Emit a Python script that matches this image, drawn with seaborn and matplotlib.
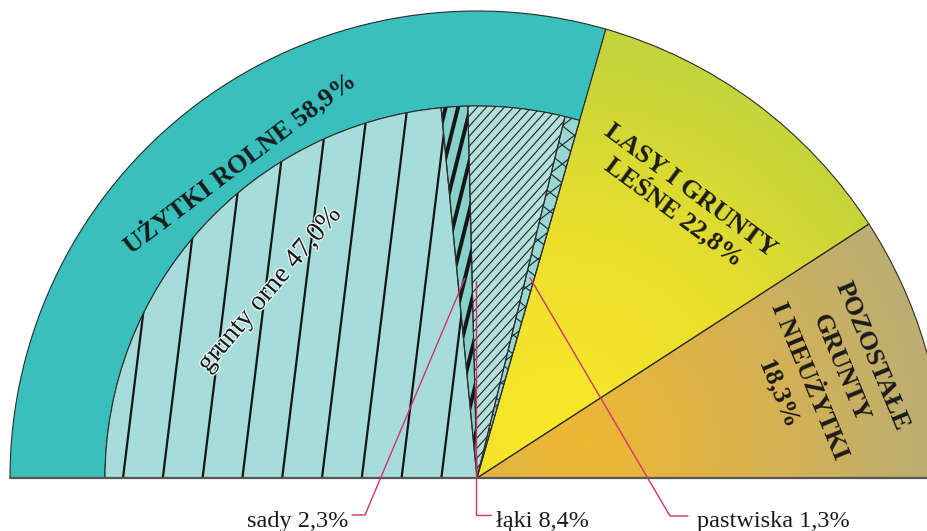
import numpy as np
import matplotlib
matplotlib.use("Agg")
import matplotlib.pyplot as plt
import matplotlib.patheffects as pe
from matplotlib.patches import Wedge
import seaborn as sns

# dane (% powierzchni)
outer_labels = ["UŻYTKI ROLNE", "LASY I GRUNTY\nLEŚNE", "POZOSTAŁE\nGRUNTY\nI NIEUŻYTKI"]
outer_values = [58.9, 22.8, 18.3]
inner_labels = ["grunty orne", "sady", "łąki", "pastwiska"]
inner_values = [47.0, 2.3, 8.4, 1.3]


def pct(v):
    return f"{v:.1f}".replace(".", ",") + "%"


sns.set_style("white")
plt.rcParams["font.family"] = ["Liberation Serif", "DejaVu Serif"]

W, H = 928, 531
fig = plt.figure(figsize=(W / 100, H / 100), dpi=100)
ax = fig.add_axes([0, 0, 1, 1])

cx, cy = 477, H - 478
R, r = 467, 372
edge = "#2b2b2b"


def spans(values, start, total):
    out, t = [], start
    for v in values:
        d = v / sum(values) * total
        out.append((t - d, t))
        t -= d
    return out


def pol(a, rad):
    return cx + rad * np.cos(np.radians(a)), cy + rad * np.sin(np.radians(a))


outer_sp = spans(outer_values, 180, 180)
inner_sp = spans(inner_values, 180, outer_sp[0][1] - outer_sp[0][0])


def hatch(patch, ang, step, lw, color, through=(cx, cy)):
    d = np.array([np.cos(np.radians(ang)), np.sin(np.radians(ang))])
    n = np.array([-d[1], d[0]])
    for k in range(-90, 91):
        p = np.array(through) + n * step * k
        seg = np.array([p - d * 1300, p + d * 1300])
        ln, = ax.plot(seg[:, 0], seg[:, 1], color=color, lw=lw,
                      solid_capstyle="butt", zorder=2)
        ln.set_clip_path(patch)


# pierścień zewnętrzny - użytki rolne
t1, t2 = outer_sp[0]
ax.add_patch(Wedge((cx, cy), R, t1, t2, width=R - r, fc="#39bfbc",
                   ec=edge, lw=0.8, zorder=1))

# lasy i pozostałe z gradientem
yy, xx = np.mgrid[0:H, 0:W] + 0.5
grad = [
    (sns.blend_palette(["#f8e829", "#ecdf2c", "#c4d43b"], as_cmap=True), (560, H - 430), 380),
    (sns.blend_palette(["#eeb832", "#d9b24e", "#bdae70"], as_cmap=True), (585, H - 445), 340),
]
for (a1, a2), (cmap, gc, gr) in zip(outer_sp[1:], grad):
    w = Wedge((cx, cy), R, a1, a2, fc="none", ec="none", zorder=1)
    ax.add_patch(w)
    t = np.clip(np.hypot(xx - gc[0], yy - gc[1]) / gr, 0, 1)
    im = ax.imshow(cmap(t), extent=(0, W, 0, H), origin="lower",
                   aspect="auto", zorder=1.5)
    im.set_clip_path(w)
    ax.add_patch(Wedge((cx, cy), R, a1, a2, fc="none", ec=edge, lw=0.8, zorder=3))

# wewnętrzne segmenty
inner_fc = ["#a6dcd9", "#86d1cc", "#b3e1de", "#98d7d3"]
patches = []
for (a1, a2), fc in zip(inner_sp, inner_fc):
    w = Wedge((cx, cy), r, a1, a2, fc=fc, ec="none", zorder=1)
    ax.add_patch(w)
    patches.append(w)

hatch(patches[0], 83, 39.5, 1.6, "#151515", through=(123, cy))
hatch(patches[1], 76, 12, 2.8, "#151515")
hatch(patches[2], 48, 6.7, 0.8, "#222222")
hatch(patches[3], 38, 15, 0.8, "#222222")
hatch(patches[3], 142, 15, 0.8, "#222222")

for a1, a2 in inner_sp:
    ax.add_patch(Wedge((cx, cy), r, a1, a2, fc="none", ec=edge, lw=0.8, zorder=3))

# linia podstawy
ax.plot([cx - R, W], [cy, cy], color="#555555", lw=1.6, zorder=3.5)

# etykiety zewnętrzne
lab_r = [395, 344, 363]
lab_rot = [0, 0, 6]
lab_ls = [1.0, 1.05, 1.6]
for (a1, a2), lab, v, rad, dr, ls in zip(outer_sp, outer_labels, outer_values,
                                         lab_r, lab_rot, lab_ls):
    m = (a1 + a2) / 2
    sep = "\n" if lab.startswith("POZ") else " "
    x, y = pol(m, rad)
    ax.text(x, y, lab + sep + pct(v), rotation=m - 90 + dr, rotation_mode="anchor",
            ha="center", va="center", multialignment="center", fontsize=19,
            fontweight="bold", color="#1a1a1a", linespacing=ls, zorder=6)

# grunty orne
a1, a2 = inner_sp[0]
m = (a1 + a2) / 2
x, y = pol(m, 280)
ax.text(x, y, f"{inner_labels[0]} {pct(inner_values[0])}", rotation=m - 88,
        rotation_mode="anchor", ha="center", va="center", fontsize=20,
        color="#1a1a1a", zorder=6,
        path_effects=[pe.withStroke(linewidth=2, foreground="#e6f5f4")])

# odnośniki
mag = "#d4326e"
yl = H - 515
# sady
m = sum(inner_sp[1]) / 2
p = pol(m, 200)
ax.plot([p[0], 365, 352], [p[1], yl, yl], color=mag, lw=1.0, zorder=5)
ax.text(348, H - 527, f"{inner_labels[1]} {pct(inner_values[1])}", ha="right",
        va="baseline", fontsize=17.5, color="#1a1a1a")
# łąki
p = pol(inner_sp[2][1] - 1, 197)
ax.plot([p[0], p[0], p[0] + 15], [p[1], yl, yl], color=mag, lw=1.0, zorder=5)
ax.text(p[0] + 20, H - 527, f"{inner_labels[2]} {pct(inner_values[2])}", ha="left",
        va="baseline", fontsize=17.5, color="#1a1a1a")
# pastwiska
m = sum(inner_sp[3]) / 2
p = pol(m, 207)
ax.plot([p[0], 670, 688], [p[1], yl - 1, yl - 1], color=mag, lw=1.0, zorder=5)
ax.text(697, H - 527, f"{inner_labels[3]} {pct(inner_values[3])}", ha="left",
        va="baseline", fontsize=17.5, color="#1a1a1a")

ax.set_xlim(0, W)
ax.set_ylim(0, H)
ax.axis("off")
fig.savefig("out.png", dpi=100)
